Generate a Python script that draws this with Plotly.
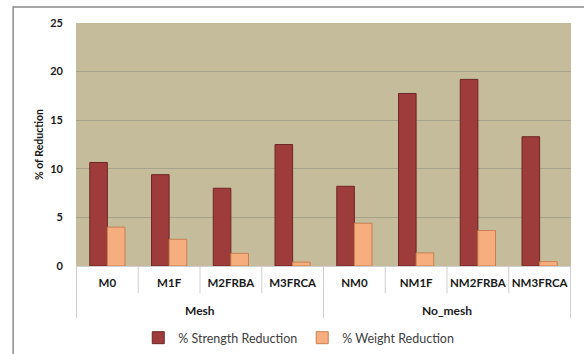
import plotly.graph_objects as go

# Specimen groups and mix designations
group_names = ["Mesh", "No_mesh"]
group_sizes = [4, 4]
mixes = ["M0", "M1F", "M2FRBA", "M3FRCA", "NM0", "NM1F", "NM2FRBA", "NM3FRCA"]

# Percentage reductions per mix
strength_reduction = [10.65, 9.4, 8.0, 12.5, 8.2, 17.75, 19.2, 13.3]
weight_reduction = [4.0, 2.75, 1.3, 0.4, 4.4, 1.35, 3.65, 0.45]

y_ticks = [0, 5, 10, 15, 20, 25]

FONT = "Lato, 'Liberation Sans', sans-serif"
TXT = "#1a1a1a"
SEP = "#CFCFCF"

fig = go.Figure()
fig.add_trace(go.Bar(
    x=mixes, y=strength_reduction, name="% Strength Reduction",
    marker=dict(color="#9E3B3B", line=dict(color="#6E2626", width=1)),
))
fig.add_trace(go.Bar(
    x=mixes, y=weight_reduction, name="% Weight Reduction",
    marker=dict(color="#F6AE7E", line=dict(color="#C8804F", width=1)),
))

# category separators below the axis: short between mixes, long between groups
shapes = []
n = len(mixes)
group_edges = [-0.5]
for s in group_sizes:
    group_edges.append(group_edges[-1] + s)
for i in range(n + 1):
    xpos = i - 0.5
    long_line = any(abs(xpos - e) < 1e-9 for e in group_edges)
    shapes.append(dict(type="line", xref="x", yref="paper", x0=xpos, x1=xpos,
                       y0=0, y1=-0.215 if long_line else -0.112,
                       line=dict(color=SEP, width=1)))
# chart frame
shapes.append(dict(type="rect", xref="paper", yref="paper",
                   x0=-0.127, x1=1.05, y0=-0.40, y1=1.066,
                   line=dict(color="#8C8C8C", width=1.5), layer="below"))

annotations = []
for name, lo, hi in zip(group_names, group_edges[:-1], group_edges[1:]):
    annotations.append(dict(text=name, xref="x", yref="paper", x=(lo + hi) / 2, y=-0.185,
                            showarrow=False, yanchor="middle", xanchor="center",
                            font=dict(size=12, color=TXT, family=FONT, weight="bold")))

fig.update_layout(
    width=584, height=354,
    margin=dict(l=76, r=13, t=23, b=88, autoexpand=False),
    paper_bgcolor="white",
    plot_bgcolor="#C4BC9A",
    barmode="group", bargap=0.43, bargroupgap=0,
    font=dict(family=FONT, color=TXT),
    showlegend=True,
    legend=dict(orientation="h", x=0.45, xanchor="center",
                yref="container", y=0.045, yanchor="middle",
                font=dict(size=12.5, color="#404040"), itemwidth=30,
                traceorder="normal"),
    xaxis=dict(
        type="category", tickangle=0,
        tickfont=dict(size=11.5, color=TXT, family=FONT, weight="bold"),
        ticks="", ticklabelstandoff=6,
        showline=True, linecolor=SEP, showgrid=False,
    ),
    yaxis=dict(
        range=[0, 25], tickvals=y_ticks,
        tickfont=dict(size=11, color=TXT, family=FONT, weight="bold"),
        showgrid=True, gridcolor="#A6A28C", gridwidth=1,
        zeroline=False, showline=False, ticks="", ticklabelstandoff=12,
        title=dict(text="% of Reduction", font=dict(size=10.5, color=TXT, weight="bold"), standoff=4),
    ),
    shapes=shapes,
    annotations=annotations,
)

fig.write_html("out.html")
